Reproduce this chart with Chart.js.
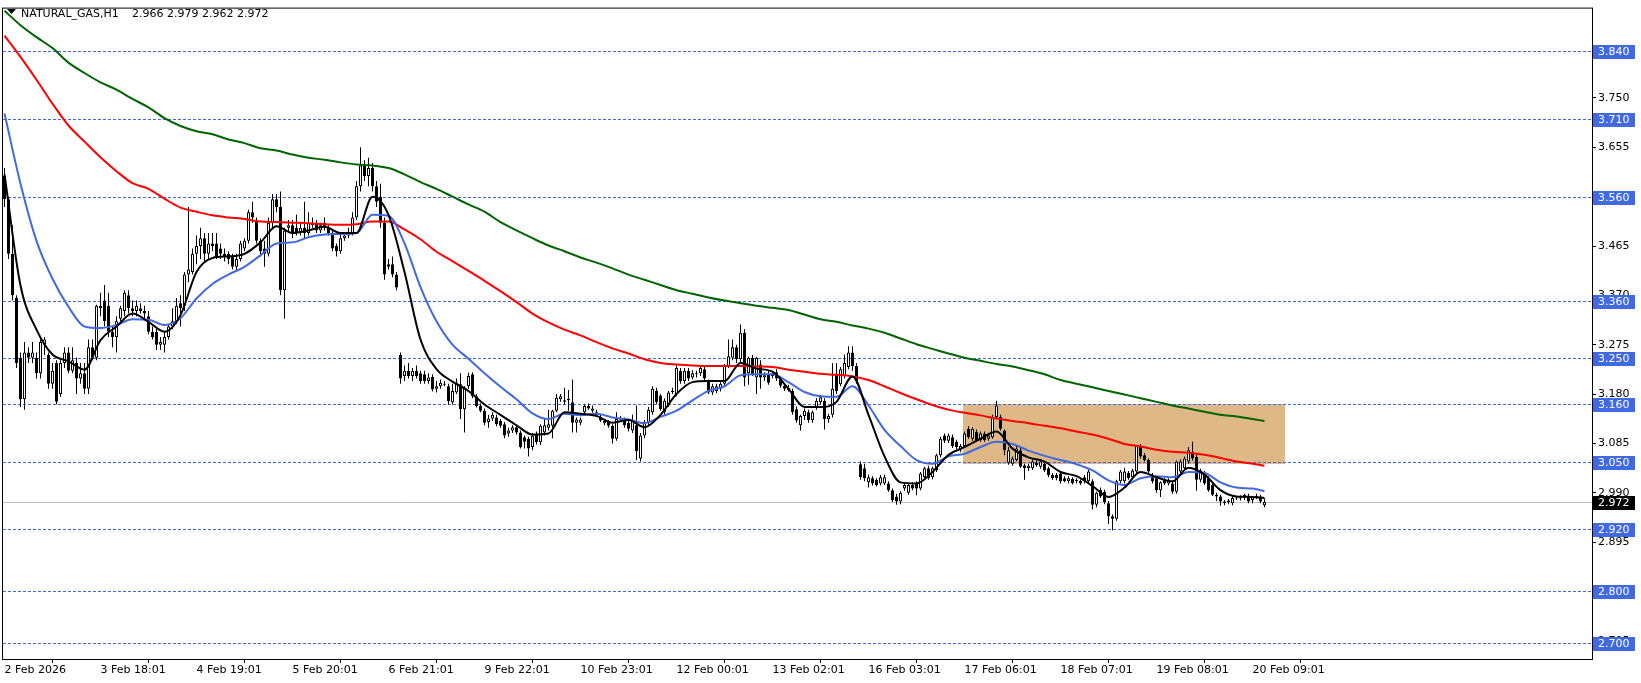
<!DOCTYPE html>
<html>
<head>
<meta charset="utf-8">
<title>NATURAL_GAS,H1</title>
<script src="https://cdn.jsdelivr.net/npm/chart.js@4.4.1/dist/chart.umd.min.js"></script>
<style>
  html, body { margin: 0; padding: 0; background: #fff; }
  #wrap { width: 1641px; height: 683px; position: relative; }
</style>
</head>
<body>
<div id="wrap"><canvas id="myChart"></canvas></div>
<script>
// header of the chart window
const symbolName = "NATURAL_GAS,H1";
const lastBarText = "2.966 2.979 2.962 2.972";

// hourly candles, one entry per bar (bar 0 = 2 Feb 2026)
const opens = [
  3.600,3.555,3.450,3.365,3.250,3.170,3.260,3.250,3.250,3.220,
  3.275,3.255,3.200,3.240,3.180,3.240,3.260,3.225,3.240,3.210,
  3.220,3.190,3.270,3.250,3.350,3.360,3.350,3.300,3.290,3.325,
  3.340,3.370,3.345,3.340,3.345,3.340,3.330,3.300,3.300,3.275,
  3.275,3.290,3.310,3.320,3.355,3.350,3.410,3.415,3.450,3.465,
  3.480,3.450,3.470,3.470,3.460,3.450,3.450,3.445,3.425,3.440,
  3.460,3.475,3.530,3.515,3.475,3.460,3.450,3.510,3.555,3.540,
  3.380,3.500,3.505,3.500,3.490,3.500,3.490,3.505,3.510,3.495,
  3.510,3.500,3.490,3.465,3.455,3.480,3.485,3.490,3.520,3.580,
  3.620,3.600,3.615,3.580,3.560,3.510,3.430,3.430,3.410,3.255,
  3.215,3.225,3.215,3.225,3.220,3.218,3.205,3.213,3.190,3.195,
  3.200,3.195,3.164,3.183,3.199,3.151,3.195,3.218,3.176,3.157,
  3.148,3.126,3.133,3.135,3.128,3.122,3.104,3.110,3.116,3.106,
  3.097,3.094,3.078,3.103,3.087,3.106,3.115,3.119,3.148,3.170,
  3.165,3.168,3.164,3.125,3.125,3.145,3.157,3.148,3.145,3.135,
  3.124,3.126,3.119,3.094,3.131,3.128,3.125,3.110,3.120,3.056,
  3.100,3.126,3.145,3.186,3.177,3.145,3.158,3.186,3.180,3.225,
  3.205,3.225,3.212,3.220,3.220,3.228,3.205,3.183,3.186,3.190,
  3.200,3.234,3.250,3.270,3.247,3.298,3.220,3.250,3.212,3.237,
  3.212,3.218,3.215,3.222,3.210,3.196,3.192,3.186,3.151,3.120,
  3.138,3.145,3.130,3.155,3.164,3.167,3.132,3.140,3.218,3.199,
  3.215,3.232,3.260,3.234,3.045,3.037,3.010,3.018,3.015,3.008,
  3.008,3.008,2.995,2.983,2.973,2.998,2.990,3.005,3.008,2.998,
  3.020,3.037,3.020,3.034,3.062,3.100,3.090,3.097,3.088,3.072,
  3.080,3.113,3.094,3.107,3.091,3.104,3.094,3.097,3.136,3.136,
  3.110,3.048,3.046,3.053,3.072,3.043,3.037,3.037,3.048,3.040,
  3.046,3.037,3.024,3.024,3.027,3.018,3.012,3.017,3.015,3.013,
  3.020,3.012,3.012,2.967,2.996,2.992,2.970,2.945,2.940,3.012,
  3.012,3.028,3.020,3.031,3.080,3.062,3.053,3.024,3.018,2.995,
  3.015,3.008,3.008,2.992,3.031,3.037,3.050,3.069,3.059,3.015,
  3.027,3.018,3.005,2.986,2.983,2.970,2.972,2.970,2.980,2.979,
  2.980,2.983,2.976,2.984,2.983,2.966
];
const highs = [
  3.615,3.560,3.505,3.370,3.260,3.280,3.270,3.280,3.260,3.285,
  3.290,3.260,3.240,3.245,3.245,3.270,3.270,3.270,3.250,3.240,
  3.240,3.285,3.285,3.352,3.375,3.390,3.375,3.310,3.330,3.350,
  3.380,3.380,3.360,3.360,3.355,3.350,3.340,3.310,3.305,3.290,
  3.300,3.315,3.345,3.365,3.370,3.415,3.540,3.460,3.485,3.500,
  3.490,3.490,3.490,3.490,3.470,3.460,3.455,3.450,3.450,3.475,
  3.480,3.535,3.550,3.520,3.480,3.475,3.520,3.565,3.565,3.570,
  3.500,3.515,3.515,3.525,3.510,3.550,3.530,3.520,3.515,3.510,
  3.520,3.505,3.495,3.470,3.490,3.490,3.500,3.530,3.590,3.655,
  3.630,3.635,3.625,3.590,3.585,3.520,3.440,3.445,3.415,3.260,
  3.235,3.240,3.230,3.235,3.225,3.225,3.220,3.218,3.205,3.208,
  3.205,3.200,3.200,3.210,3.220,3.195,3.221,3.222,3.180,3.162,
  3.152,3.140,3.145,3.140,3.132,3.126,3.115,3.120,3.120,3.110,
  3.100,3.098,3.105,3.108,3.122,3.132,3.150,3.150,3.180,3.180,
  3.192,3.188,3.208,3.135,3.135,3.160,3.162,3.158,3.150,3.140,
  3.132,3.130,3.122,3.145,3.138,3.135,3.130,3.140,3.158,3.105,
  3.130,3.155,3.195,3.192,3.180,3.172,3.186,3.192,3.235,3.230,
  3.230,3.230,3.226,3.225,3.235,3.232,3.208,3.200,3.200,3.205,
  3.238,3.285,3.285,3.275,3.314,3.305,3.252,3.255,3.252,3.245,
  3.222,3.225,3.222,3.228,3.215,3.200,3.198,3.190,3.156,3.140,
  3.152,3.150,3.148,3.172,3.178,3.172,3.142,3.240,3.240,3.232,
  3.256,3.272,3.272,3.240,3.050,3.046,3.025,3.022,3.018,3.024,
  3.025,3.012,2.998,2.988,2.993,3.008,3.008,3.010,3.012,3.030,
  3.040,3.042,3.040,3.065,3.098,3.104,3.104,3.102,3.092,3.084,
  3.108,3.118,3.116,3.112,3.108,3.108,3.104,3.140,3.167,3.140,
  3.112,3.078,3.060,3.080,3.076,3.046,3.046,3.054,3.052,3.054,
  3.050,3.040,3.028,3.028,3.030,3.022,3.022,3.020,3.018,3.016,
  3.024,3.034,3.016,2.992,3.000,2.996,2.974,2.948,3.015,3.034,
  3.038,3.032,3.036,3.082,3.084,3.066,3.056,3.028,3.022,3.012,
  3.018,3.018,3.012,3.052,3.054,3.060,3.078,3.088,3.064,3.036,
  3.032,3.022,3.008,2.990,2.986,2.976,2.978,2.984,2.984,2.985,
  2.988,2.988,2.984,2.988,2.986,2.979
];
const lows = [
  3.540,3.440,3.360,3.230,3.155,3.150,3.240,3.240,3.210,3.210,
  3.255,3.190,3.190,3.160,3.175,3.230,3.220,3.220,3.180,3.200,
  3.180,3.180,3.245,3.245,3.330,3.310,3.290,3.270,3.260,3.320,
  3.330,3.335,3.330,3.330,3.335,3.325,3.295,3.285,3.265,3.265,
  3.260,3.285,3.305,3.315,3.310,3.340,3.395,3.410,3.430,3.440,
  3.435,3.440,3.455,3.440,3.440,3.435,3.430,3.420,3.415,3.435,
  3.455,3.470,3.510,3.470,3.445,3.425,3.445,3.500,3.530,3.370,
  3.325,3.490,3.480,3.485,3.485,3.480,3.485,3.500,3.490,3.490,
  3.495,3.485,3.455,3.445,3.450,3.475,3.480,3.485,3.515,3.570,
  3.590,3.580,3.570,3.540,3.500,3.400,3.420,3.405,3.380,3.200,
  3.205,3.210,3.205,3.210,3.200,3.200,3.200,3.185,3.183,3.190,
  3.195,3.160,3.160,3.180,3.132,3.106,3.190,3.172,3.154,3.145,
  3.120,3.115,3.128,3.118,3.115,3.095,3.098,3.105,3.102,3.075,
  3.075,3.060,3.072,3.083,3.082,3.100,3.110,3.095,3.145,3.165,
  3.160,3.148,3.106,3.106,3.120,3.140,3.150,3.144,3.136,3.126,
  3.120,3.115,3.085,3.090,3.126,3.115,3.108,3.105,3.053,3.050,
  3.095,3.120,3.140,3.160,3.148,3.140,3.155,3.180,3.176,3.200,
  3.200,3.205,3.208,3.212,3.215,3.205,3.180,3.178,3.182,3.185,
  3.196,3.230,3.245,3.240,3.240,3.195,3.198,3.215,3.180,3.190,
  3.205,3.198,3.210,3.205,3.192,3.186,3.185,3.140,3.125,3.110,
  3.130,3.125,3.125,3.150,3.160,3.112,3.125,3.135,3.180,3.195,
  3.210,3.228,3.225,3.200,3.015,3.012,3.000,3.004,3.002,3.004,
  3.005,2.992,2.972,2.967,2.968,2.994,2.986,2.995,2.985,2.995,
  3.016,3.015,3.016,3.030,3.058,3.086,3.086,3.076,3.074,3.068,
  3.076,3.094,3.090,3.088,3.088,3.088,3.090,3.094,3.132,3.110,
  3.062,3.044,3.042,3.050,3.038,3.015,3.032,3.034,3.040,3.036,
  3.030,3.020,3.015,3.014,3.008,3.010,3.008,3.006,3.008,3.005,
  3.008,3.008,2.958,2.962,2.980,2.968,2.930,2.918,2.936,3.008,
  3.008,3.015,3.016,3.028,3.056,3.050,3.028,3.008,2.990,2.982,
  3.005,3.004,2.988,2.988,3.028,3.034,3.046,3.052,2.994,3.010,
  3.005,2.992,2.984,2.974,2.965,2.966,2.968,2.966,2.976,2.975,
  2.976,2.970,2.970,2.978,2.970,2.962
];
const closes = [
  3.555,3.450,3.370,3.240,3.170,3.260,3.250,3.260,3.220,3.280,
  3.285,3.200,3.225,3.165,3.240,3.260,3.225,3.245,3.210,3.220,
  3.190,3.270,3.250,3.350,3.345,3.320,3.300,3.290,3.320,3.345,
  3.375,3.345,3.340,3.350,3.340,3.335,3.300,3.290,3.275,3.280,
  3.290,3.310,3.320,3.350,3.345,3.410,3.420,3.450,3.465,3.480,
  3.450,3.470,3.465,3.445,3.450,3.445,3.440,3.425,3.440,3.470,
  3.475,3.530,3.520,3.475,3.455,3.450,3.510,3.555,3.540,3.380,
  3.495,3.505,3.490,3.490,3.500,3.490,3.510,3.510,3.495,3.505,
  3.500,3.490,3.460,3.455,3.480,3.485,3.490,3.520,3.580,3.620,
  3.600,3.615,3.580,3.550,3.510,3.410,3.425,3.410,3.385,3.210,
  3.225,3.215,3.225,3.215,3.205,3.205,3.212,3.189,3.195,3.202,
  3.198,3.166,3.186,3.202,3.151,3.192,3.215,3.176,3.157,3.148,
  3.125,3.133,3.140,3.122,3.119,3.100,3.110,3.116,3.106,3.078,
  3.088,3.075,3.100,3.087,3.119,3.120,3.122,3.148,3.173,3.176,
  3.168,3.171,3.125,3.131,3.131,3.157,3.152,3.152,3.139,3.129,
  3.128,3.119,3.094,3.132,3.133,3.120,3.113,3.129,3.070,3.100,
  3.126,3.150,3.190,3.164,3.151,3.167,3.183,3.184,3.230,3.205,
  3.225,3.210,3.220,3.218,3.230,3.210,3.183,3.195,3.195,3.200,
  3.234,3.253,3.270,3.247,3.298,3.212,3.250,3.218,3.250,3.212,
  3.216,3.202,3.218,3.210,3.196,3.190,3.188,3.145,3.129,3.138,
  3.148,3.130,3.145,3.167,3.174,3.132,3.138,3.190,3.186,3.228,
  3.240,3.260,3.234,3.205,3.020,3.018,3.020,3.008,3.005,3.020,
  3.020,2.995,2.976,2.973,2.990,3.005,3.005,2.998,2.998,3.027,
  3.037,3.018,3.037,3.062,3.094,3.090,3.100,3.080,3.078,3.080,
  3.104,3.097,3.113,3.091,3.104,3.091,3.100,3.136,3.158,3.113,
  3.072,3.072,3.056,3.075,3.040,3.037,3.042,3.050,3.043,3.050,
  3.033,3.024,3.018,3.018,3.012,3.012,3.018,3.009,3.012,3.008,
  3.012,3.031,2.967,2.990,2.983,2.972,2.945,2.940,3.012,3.031,
  3.031,3.018,3.033,3.080,3.060,3.053,3.031,3.012,2.995,3.010,
  3.008,3.015,2.992,3.050,3.050,3.056,3.072,3.056,3.015,3.033,
  3.008,2.995,2.986,2.983,2.973,2.973,2.975,2.980,2.979,2.981,
  2.986,2.973,2.982,2.980,2.973,2.972
];

// moving averages, read every 4 bars
const maX = [
  0,4,8,12,16,20,24,28,32,36,40,44,48,52,56,60,64,68,72,76,
  80,84,88,92,96,100,104,108,112,116,120,124,128,132,136,140,144,148,152,156,
  160,164,168,172,176,180,184,188,192,196,200,204,208,212,216,220,224,228,232,236,
  240,244,248,252,256,260,264,268,272,276,280,284,288,292,296,300,304,308,312,315
];
const maBlack = [
  3.603,3.389,3.304,3.256,3.243,3.227,3.284,3.310,3.335,3.319,3.300,3.332,3.415,3.442,3.445,3.450,3.472,3.503,3.490,3.495,
  3.502,3.490,3.490,3.560,3.525,3.415,3.285,3.228,3.204,3.186,3.160,3.140,3.120,3.102,3.104,3.145,3.142,3.138,3.125,3.130,
  3.116,3.140,3.180,3.203,3.205,3.205,3.240,3.229,3.223,3.190,3.155,3.155,3.165,3.214,3.140,3.060,3.010,3.008,3.030,3.063,
  3.078,3.094,3.108,3.075,3.058,3.050,3.030,3.022,3.003,2.982,3.000,3.030,3.020,3.012,3.038,3.025,2.995,2.983,2.982,2.980
];
const maBlue = [
  3.720,3.585,3.475,3.402,3.348,3.310,3.307,3.313,3.324,3.323,3.313,3.326,3.364,3.392,3.410,3.425,3.447,3.470,3.472,3.482,
  3.487,3.488,3.490,3.525,3.523,3.470,3.386,3.320,3.275,3.248,3.220,3.194,3.170,3.143,3.132,3.142,3.139,3.142,3.135,3.131,
  3.124,3.136,3.148,3.168,3.186,3.195,3.216,3.218,3.218,3.203,3.184,3.176,3.175,3.195,3.158,3.111,3.080,3.053,3.046,3.060,
  3.065,3.078,3.088,3.084,3.071,3.061,3.053,3.045,3.033,3.014,3.005,3.018,3.022,3.020,3.030,3.028,3.010,3.000,2.998,2.993
];
const maRed = [
  3.870,3.829,3.785,3.739,3.697,3.666,3.636,3.609,3.586,3.575,3.556,3.539,3.531,3.524,3.520,3.517,3.512,3.511,3.510,3.509,
  3.507,3.506,3.507,3.512,3.512,3.497,3.478,3.454,3.436,3.417,3.398,3.378,3.357,3.335,3.318,3.304,3.293,3.280,3.268,3.258,
  3.247,3.240,3.237,3.235,3.234,3.234,3.234,3.233,3.232,3.227,3.223,3.219,3.217,3.214,3.207,3.195,3.182,3.170,3.159,3.150,
  3.144,3.139,3.133,3.128,3.124,3.119,3.114,3.108,3.102,3.094,3.084,3.079,3.073,3.069,3.067,3.063,3.057,3.050,3.046,3.042
];
const maGreen = [
  3.918,3.890,3.867,3.846,3.818,3.798,3.780,3.766,3.748,3.732,3.711,3.696,3.686,3.680,3.670,3.663,3.653,3.649,3.641,3.635,
  3.631,3.626,3.622,3.620,3.615,3.603,3.588,3.575,3.560,3.545,3.531,3.511,3.495,3.480,3.466,3.455,3.443,3.433,3.422,3.410,
  3.400,3.390,3.380,3.373,3.366,3.360,3.355,3.350,3.346,3.342,3.333,3.324,3.319,3.312,3.306,3.298,3.287,3.276,3.267,3.258,
  3.250,3.244,3.238,3.233,3.226,3.218,3.207,3.200,3.193,3.186,3.179,3.172,3.165,3.158,3.152,3.146,3.140,3.137,3.132,3.128
];

// time axis labels and the bars they sit on
const tickIdx = [0, 24, 48, 72, 96, 120, 144, 168, 192, 216, 240, 264, 288, 312];
const tickText = [
  "2 Feb 2026", "3 Feb 18:01", "4 Feb 19:01", "5 Feb 20:01", "6 Feb 21:01",
  "9 Feb 22:01", "10 Feb 23:01", "12 Feb 00:01", "13 Feb 02:01", "16 Feb 03:01",
  "17 Feb 06:01", "18 Feb 07:01", "19 Feb 08:01", "20 Feb 09:01"
];

// price axis
const yTicks = [3.750, 3.655, 3.560, 3.465, 3.370, 3.275, 3.180, 3.085, 2.990, 2.895, 2.800, 2.705];
const levels = [3.840, 3.710, 3.560, 3.360, 3.250, 3.160, 3.050, 2.920, 2.800, 2.700];
const lastPrice = 2.972;

// shaded zone (bars / prices)
const zoneStart = 239.7;
const zoneEnd = 320.1;
const zoneLow = 3.046;
const zoneHigh = 3.160;

const FONT = "11px 'DejaVu Sans'";

// build the datasets
const barIdx = opens.map((o, i) => i);
const wickData = barIdx.map(i => ({ x: i, y: [lows[i], highs[i]] }));
const bodyData = barIdx.map(i => ({ x: i, y: [opens[i], closes[i]] }));
const bodyColors = barIdx.map(i => (closes[i] >= opens[i] ? "#ffffff" : "#000000"));

function maPoints(values) {
  return maX.map((x, k) => ({ x: x, y: values[k] }));
}

function maLine(values, color, order) {
  return {
    type: "line",
    data: maPoints(values),
    borderColor: color,
    borderWidth: 2,
    pointRadius: 0,
    cubicInterpolationMode: "monotone",
    fill: false,
    order: order,
  };
}

// draws the zone, level lines, price labels, frame and header
const chartExtras = {
  id: "chartExtras",
  beforeDatasetsDraw(chart) {
    const ctx = chart.ctx;
    const xs = chart.scales.x;
    const ys = chart.scales.y;
    const area = chart.chartArea;
    ctx.save();

    const zx0 = Math.round(xs.getPixelForValue(zoneStart));
    const zx1 = Math.round(xs.getPixelForValue(zoneEnd));
    const zy0 = Math.round(ys.getPixelForValue(zoneHigh));
    const zy1 = Math.round(ys.getPixelForValue(zoneLow));
    ctx.fillStyle = "#DEB887";
    ctx.fillRect(zx0, zy0, zx1 - zx0, zy1 - zy0);

    ctx.lineWidth = 1;
    ctx.strokeStyle = "#4169E1";
    ctx.setLineDash([3, 2]);
    for (let i = 0; i < levels.length; i++) {
      const py = Math.round(ys.getPixelForValue(levels[i])) + 0.5;
      ctx.beginPath();
      ctx.moveTo(area.left, py);
      ctx.lineTo(area.right, py);
      ctx.stroke();
    }
    ctx.setLineDash([]);

    const lp = Math.round(ys.getPixelForValue(lastPrice)) + 0.5;
    ctx.strokeStyle = "#C0C0C0";
    ctx.beginPath();
    ctx.moveTo(area.left, lp);
    ctx.lineTo(area.right, lp);
    ctx.stroke();
    ctx.restore();
  },
  afterDraw(chart) {
    const ctx = chart.ctx;
    const ys = chart.scales.y;
    const area = chart.chartArea;
    ctx.save();

    // frame
    ctx.strokeStyle = "#000000";
    ctx.lineWidth = 1;
    ctx.strokeRect(area.left - 0.5, area.top - 0.5, area.right - area.left + 1, area.bottom - area.top + 1);

    // price labels on the right axis
    ctx.font = FONT;
    ctx.textBaseline = "middle";
    ctx.textAlign = "left";
    function tag(value, fill) {
      const py = Math.round(ys.getPixelForValue(value));
      ctx.fillStyle = fill;
      ctx.fillRect(area.right + 1, py - 6, 42, 14);
      ctx.fillStyle = "#ffffff";
      ctx.fillText(value.toFixed(3), area.right + 6, py + 1);
    }
    for (let i = 0; i < levels.length; i++) {
      tag(levels[i], "#4169E1");
    }
    tag(lastPrice, "#000000");

    // header
    ctx.fillStyle = "#000000";
    ctx.beginPath();
    ctx.moveTo(7, 9);
    ctx.lineTo(16, 9);
    ctx.lineTo(11.5, 14);
    ctx.closePath();
    ctx.fill();
    ctx.textBaseline = "alphabetic";
    ctx.fillText(symbolName, 21, 17);
    ctx.fillText(lastBarText, 132, 17);
    ctx.restore();
  },
};

const config = {
  type: "bar",
  data: {
    datasets: [
      maLine(maBlack, "#000000", 0),
      maLine(maBlue, "#4169E1", 1),
      maLine(maRed, "#FF0000", 2),
      maLine(maGreen, "#006400", 3),
      {
        label: "bodies",
        data: bodyData,
        backgroundColor: bodyColors,
        borderColor: "#000000",
        borderWidth: 1,
        borderSkipped: false,
        barThickness: 3,
        minBarLength: 1,
        inflateAmount: 0,
        grouped: false,
        order: 10,
      },
      {
        label: "wicks",
        data: wickData,
        backgroundColor: "#000000",
        borderWidth: 0,
        barThickness: 1,
        inflateAmount: 0,
        grouped: false,
        order: 11,
      },
    ],
  },
  options: {
    responsive: true,
    maintainAspectRatio: false,
    animation: false,
    devicePixelRatio: 1,
    layout: { padding: { left: 3, top: 3, right: 0, bottom: 0 } },
    plugins: {
      legend: { display: false },
      tooltip: { enabled: false },
    },
    scales: {
      x: {
        type: "linear",
        offset: false,
        min: -0.375,
        max: 396.875,
        border: { display: false },
        grid: { drawOnChartArea: false, drawTicks: true, tickLength: 4, color: "#000000" },
        ticks: {
          autoSkip: false,
          maxRotation: 0,
          align: "start",
          padding: 1,
          color: "#000000",
          font: { family: "DejaVu Sans", size: 11 },
          callback: (value, index) => tickText[index],
        },
        afterBuildTicks: (scale) => {
          scale.ticks = tickIdx.map(v => ({ value: v }));
        },
        afterFit: (scale) => {
          scale.height = 24;
        },
      },
      y: {
        position: "right",
        min: 2.670,
        max: 3.922,
        border: { display: false },
        grid: { drawOnChartArea: false, drawTicks: true, tickLength: 4, color: "#000000" },
        ticks: {
          padding: 2,
          color: "#000000",
          font: { family: "DejaVu Sans", size: 11 },
          callback: (value) => Number(value).toFixed(3),
        },
        afterBuildTicks: (scale) => {
          scale.ticks = yTicks.map(v => ({ value: v }));
        },
        afterFit: (scale) => {
          scale.width = 49;
        },
      },
    },
  },
  plugins: [chartExtras],
};

let canvasChart = document.getElementById("myChart");
const myChart = new Chart(canvasChart, config);
</script>
</body>
</html>
